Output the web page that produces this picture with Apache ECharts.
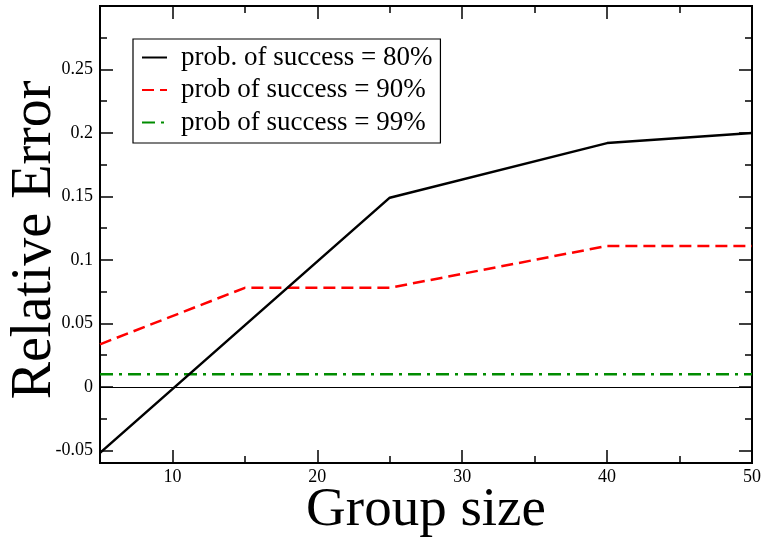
<!DOCTYPE html>
<html><head><meta charset="utf-8">
<script src="https://cdn.jsdelivr.net/npm/echarts@6/dist/echarts.min.js"></script>
<style>html,body{margin:0;padding:0;background:#fff}#c{width:764px;height:540px}</style>
</head><body><div id="c"></div>
<script>
const groupSize80 = [5, 25, 40, 50];
const relErr80 = [-0.052, 0.149, 0.192, 0.2];
const groupSize90 = [5, 15, 25, 40, 50];
const relErr90 = [0.0335, 0.078, 0.078, 0.111, 0.111];
const groupSize99 = [5, 50];
const relErr99 = [0.01, 0.01];
const xMajorTicks = [10, 20, 30, 40, 50];
const xMinorTicks = [15, 25, 35, 45];
const yMajorTicks = [-0.05, 0, 0.05, 0.1, 0.15, 0.2, 0.25];
const yMinorTicks = [-0.025, 0.025, 0.075, 0.125, 0.175, 0.225, 0.275];
const seriesNames = ['prob. of success = 80%', 'prob of success = 90%', 'prob of success = 99%'];
const xTitle = 'Group size';
const yTitle = 'Relative Error';

const font = '"Liberation Serif", "Times New Roman", serif';
const zip = (a, b) => a.map((v, i) => [v, b[i]]);

function xAxisDef(pos, ticks, len, labels, extra) {
  return Object.assign({
    type: 'value', position: pos, min: 5, max: 50,
    axisLine: { show: false, onZero: false }, splitLine: { show: false },
    axisTick: { show: true, inside: true, length: len, customValues: ticks, lineStyle: { color: '#000', width: 1.5 } },
    axisLabel: labels ? { show: true, customValues: ticks, color: '#000', fontFamily: font, fontSize: 18, margin: 5 } : { show: false }
  }, extra || {});
}
function yAxisDef(pos, ticks, len, labels, extra) {
  return Object.assign({
    type: 'value', position: pos, min: -0.06, max: 0.3,
    axisLine: { show: false, onZero: false }, splitLine: { show: false },
    axisTick: { show: true, inside: true, length: len, customValues: ticks, lineStyle: { color: '#000', width: 1.5 } },
    axisLabel: labels ? { show: true, customValues: ticks, color: '#000', fontFamily: font, fontSize: 18, margin: 7, formatter: v => String(v) } : { show: false }
  }, extra || {});
}

const chart = echarts.init(document.getElementById('c'));
chart.setOption({
  animation: false,
  backgroundColor: '#fff',
  grid: { left: 100, right: 12, top: 6, bottom: 77, containLabel: false, outerBoundsMode: 'none',
    show: true, borderColor: '#000', borderWidth: 2, backgroundColor: 'transparent' },
  legend: {
    orient: 'vertical', left: 133, top: 39,
    data: seriesNames,
    backgroundColor: '#fff', borderColor: '#000', borderWidth: 1.2,
    padding: [5, 8, 7, 8], itemGap: 5.5, itemWidth: 25, itemHeight: 12,
    itemStyle: { opacity: 0 },
    textStyle: { fontFamily: font, fontSize: 27, color: '#000', lineHeight: 26, padding: [0, 0, 0, 9] }
  },
  graphic: [
    { type: 'text', x: 35, y: 240, rotation: Math.PI / 2, silent: true,
      style: { text: yTitle, fontFamily: font, fontSize: 56, fill: '#000', align: 'center', verticalAlign: 'middle' } },
    { type: 'text', x: 426, y: 511, silent: true,
      style: { text: xTitle, fontFamily: font, fontSize: 55, fill: '#000', align: 'center', verticalAlign: 'middle' } }
  ],
  xAxis: [
    xAxisDef('bottom', xMajorTicks, 13, true),
    xAxisDef('bottom', xMinorTicks, 7, false),
    xAxisDef('top', xMajorTicks, 13, false),
    xAxisDef('top', xMinorTicks, 7, false)
  ],
  yAxis: [
    yAxisDef('left', yMajorTicks, 13, true),
    yAxisDef('left', yMinorTicks, 7, false),
    yAxisDef('right', yMajorTicks, 13, false),
    yAxisDef('right', yMinorTicks, 7, false)
  ],
  series: [
    { name: seriesNames[0], type: 'line', data: zip(groupSize80, relErr80), symbol: 'none', color: '#000',
      lineStyle: { color: '#000', width: 2.5 }, z: 5,
      markLine: { silent: true, symbol: 'none', label: { show: false }, lineStyle: { color: '#000', width: 1.2, type: 'solid' }, data: [{ yAxis: 0 }] } },
    { name: seriesNames[1], type: 'line', data: zip(groupSize90, relErr90), symbol: 'none', color: '#ff0000',
      lineStyle: { color: '#ff0000', width: 2.5, type: [12, 6] }, z: 4 },
    { name: seriesNames[2], type: 'line', data: zip(groupSize99, relErr99), symbol: 'none', color: '#008c00',
      lineStyle: { color: '#008c00', width: 2.5, type: [13, 6, 3, 6] }, z: 3 }
  ]
});
</script></body></html>
